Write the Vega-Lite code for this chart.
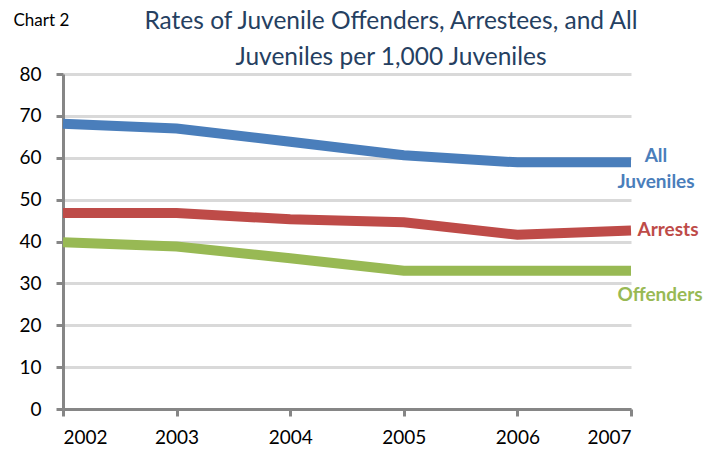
{
  "$schema": "https://vega.github.io/schema/vega-lite/v6.json",
  "width": 568,
  "height": 335,
  "autosize": "none",
  "padding": {"left": 63, "top": 74, "right": 91, "bottom": 45},
  "background": "white",
  "config": {"view": {"stroke": null}, "font": "Lato"},
  "title": {
    "text": ["Rates of Juvenile Offenders, Arrestees, and All", "Juveniles per 1,000  Juveniles"],
    "fontSize": 24.5,
    "fontWeight": "normal",
    "font": "Lato",
    "color": "#254061",
    "anchor": "middle",
    "frame": "group",
    "dx": 44,
    "offset": -59,
    "lineHeight": 36
  },
  "datasets": {
    "rates": [
      {"year": 2002, "series": "All Juveniles", "rate": 68.1},
      {"year": 2003, "series": "All Juveniles", "rate": 67.0},
      {"year": 2004, "series": "All Juveniles", "rate": 63.8},
      {"year": 2005, "series": "All Juveniles", "rate": 60.6},
      {"year": 2006, "series": "All Juveniles", "rate": 58.9},
      {"year": 2007, "series": "All Juveniles", "rate": 58.9},
      {"year": 2002, "series": "Arrests", "rate": 46.8},
      {"year": 2003, "series": "Arrests", "rate": 46.8},
      {"year": 2004, "series": "Arrests", "rate": 45.3},
      {"year": 2005, "series": "Arrests", "rate": 44.6},
      {"year": 2006, "series": "Arrests", "rate": 41.6},
      {"year": 2007, "series": "Arrests", "rate": 42.6},
      {"year": 2002, "series": "Offenders", "rate": 39.8},
      {"year": 2003, "series": "Offenders", "rate": 38.8},
      {"year": 2004, "series": "Offenders", "rate": 36.0},
      {"year": 2005, "series": "Offenders", "rate": 33.0},
      {"year": 2006, "series": "Offenders", "rate": 33.0},
      {"year": 2007, "series": "Offenders", "rate": 33.0}
    ],
    "labels": [
      {"year": 2007, "series": "All Juveniles", "rate": 58.9, "label": "All\nJuveniles"},
      {"year": 2007, "series": "Arrests", "rate": 42.6, "label": "Arrests"},
      {"year": 2007, "series": "Offenders", "rate": 33.0, "label": "Offenders"}
    ]
  },
  "layer": [
    {
      "data": {"name": "rates"},
      "mark": {"type": "line", "strokeWidth": 10, "strokeCap": "butt", "strokeJoin": "miter", "clip": false},
      "encoding": {
        "x": {
          "field": "year", "type": "quantitative",
          "scale": {"domain": [2002, 2007], "nice": false, "zero": false},
          "axis": {
            "values": [2002, 2003, 2004, 2005, 2006, 2007],
            "format": "d",
            "title": null,
            "grid": false,
            "domainColor": "#868686",
            "domainWidth": 3,
            "tickColor": "#868686",
            "tickWidth": 3,
            "tickSize": 7,
            "labelFontSize": 19,
            "labelColor": "#000000",
            "labelPadding": 12,
            "labelFont": "Lato"
          }
        },
        "y": {
          "field": "rate", "type": "quantitative",
          "scale": {"domain": [0, 80], "nice": false},
          "axis": {
            "values": [0, 10, 20, 30, 40, 50, 60, 70, 80],
            "title": "Chart 2",
            "titleAngle": 0,
            "titleAlign": "left",
            "titleBaseline": "middle",
            "titleX": -50,
            "titleY": -54,
            "titleFontSize": 17,
            "titleFontWeight": "normal",
            "titleColor": "#000000",
            "titleFont": "Lato",
            "grid": true,
            "gridColor": "#d9d9d9",
            "gridWidth": 3,
            "domainColor": "#868686",
            "domainWidth": 3,
            "tickColor": "#868686",
            "tickWidth": 3,
            "tickSize": 7,
            "labelFontSize": 19,
            "labelColor": "#000000",
            "labelPadding": 15,
            "labelFont": "Lato"
          }
        },
        "color": {
          "field": "series", "type": "nominal",
          "scale": {"domain": ["All Juveniles", "Arrests", "Offenders"], "range": ["#4a7ebb", "#be4b48", "#98b954"]},
          "legend": null
        }
      }
    },
    {
      "data": {"name": "labels"},
      "transform": [{"filter": "datum.series === 'All Juveniles'"}],
      "mark": {"type": "text", "fontSize": 19, "fontWeight": "bold", "font": "Lato", "lineBreak": "\n", "lineHeight": 26, "align": "center", "baseline": "middle", "dx": 25, "dy": -6},
      "encoding": {
        "x": {"field": "year", "type": "quantitative"},
        "y": {"field": "rate", "type": "quantitative"},
        "text": {"field": "label"},
        "color": {"field": "series", "type": "nominal", "legend": null}
      }
    },
    {
      "data": {"name": "labels"},
      "transform": [{"filter": "datum.series === 'Arrests'"}],
      "mark": {"type": "text", "fontSize": 19, "fontWeight": "bold", "font": "Lato", "align": "center", "baseline": "middle", "dx": 37, "dy": -1},
      "encoding": {
        "x": {"field": "year", "type": "quantitative"},
        "y": {"field": "rate", "type": "quantitative"},
        "text": {"field": "label"},
        "color": {"field": "series", "type": "nominal", "legend": null}
      }
    },
    {
      "data": {"name": "labels"},
      "transform": [{"filter": "datum.series === 'Offenders'"}],
      "mark": {"type": "text", "fontSize": 19, "fontWeight": "bold", "font": "Lato", "align": "center", "baseline": "middle", "dx": 29, "dy": 24},
      "encoding": {
        "x": {"field": "year", "type": "quantitative"},
        "y": {"field": "rate", "type": "quantitative"},
        "text": {"field": "label"},
        "color": {"field": "series", "type": "nominal", "legend": null}
      }
    }
  ]
}
